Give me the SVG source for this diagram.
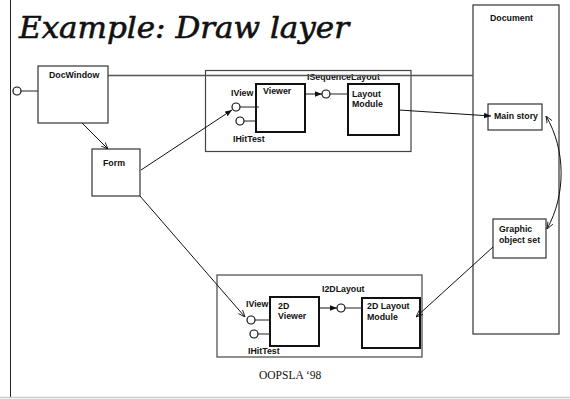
<svg xmlns="http://www.w3.org/2000/svg" width="570" height="399" viewBox="0 0 570 399">
<defs>
<style>
.lbl{font-family:"Liberation Sans",Arial,sans-serif;font-weight:bold;font-size:8.8px;fill:#111}
.box{fill:#fff;stroke:#333;stroke-width:1.2}
.thick{fill:#fff;stroke:#111;stroke-width:2}
.grp{fill:none;stroke:#444;stroke-width:1.2}
.ball{fill:#fff;stroke:#111;stroke-width:1.2}
.ln{stroke:#222;stroke-width:1;fill:none}
.arr{stroke:#111;stroke-width:1;fill:none}
</style>
<marker id="fa" viewBox="0 0 10 10" refX="10" refY="5" markerWidth="7" markerHeight="7" orient="auto-start-reverse" markerUnits="userSpaceOnUse">
<path d="M0,1 L10,5 L0,9 Z" fill="#111"/>
</marker>
<marker id="oa" viewBox="0 0 10 10" refX="10" refY="5" markerWidth="7" markerHeight="7" orient="auto-start-reverse" markerUnits="userSpaceOnUse">
<path d="M0,1 L10,5 L0,9" fill="none" stroke="#111" stroke-width="1.2"/>
</marker>
</defs>
<rect width="570" height="399" fill="#fff"/>
<line x1="10.5" y1="0" x2="10.5" y2="398" stroke="#222" stroke-width="1"/>
<line x1="0" y1="397.5" x2="570" y2="397.5" stroke="#ccc" stroke-width="1.5"/>
<text x="19" y="38" font-family="'DejaVu Serif','Liberation Serif',serif" font-style="italic" font-size="29" textLength="330" lengthAdjust="spacingAndGlyphs" fill="#111" stroke="#111" stroke-width="0.6">Example:  Draw layer</text>
<text x="259" y="379" font-family="'Liberation Serif','Times New Roman',serif" font-size="11.5" fill="#111">OOPSLA ‘98</text>

<g id="document">
<rect x="473" y="5" width="86" height="329" class="box"/>
<text x="490" y="21" class="lbl">Document</text>
</g>
<g id="seq-group">
<rect x="205.5" y="70.5" width="205.5" height="81" class="grp"/>
<text x="307" y="80" class="lbl">ISequenceLayout</text>
</g>
<g id="twod-group">
<rect x="217" y="275" width="205" height="82" class="grp"/>
<text x="322" y="292" class="lbl">I2DLayout</text>
</g>

<g id="docwindow">
<rect x="38" y="66" width="70" height="57" class="box"/>
<text x="49" y="78" class="lbl">DocWindow</text>
<circle cx="17" cy="91" r="4" class="ball"/>
</g>
<g id="form">
<rect x="92" y="149" width="48" height="47" class="box"/>
<text x="103" y="166" class="lbl">Form</text>
</g>
<g id="viewer">
<rect x="256" y="84" width="49" height="48" class="thick"/>
<text x="263" y="94" class="lbl">Viewer</text>
<circle cx="236" cy="107" r="4" class="ball"/>
<text x="231" y="96" class="lbl">IView</text>
<circle cx="240" cy="121" r="4" class="ball"/>
<text x="233" y="142" class="lbl">IHitTest</text>
</g>
<g id="seq-iface">
<circle cx="326" cy="94" r="4" class="ball"/>
</g>
<g id="layout-module">
<rect x="348" y="84" width="51" height="51" class="thick"/>
<text x="352" y="97" class="lbl">Layout</text>
<text x="352" y="107" class="lbl">Module</text>
</g>
<g id="main-story">
<rect x="488" y="104" width="54" height="26" class="box"/>
<text x="494" y="119" class="lbl">Main story</text>
</g>
<g id="graphic-object-set">
<rect x="493" y="219" width="53" height="39" class="box"/>
<text x="499" y="232" class="lbl">Graphic</text>
<text x="499" y="243" class="lbl">object set</text>
</g>
<g id="viewer2d">
<rect x="270" y="297" width="49" height="49" class="thick"/>
<text x="278" y="309" class="lbl">2D</text>
<text x="278" y="319" class="lbl">Viewer</text>
<circle cx="251" cy="320" r="4" class="ball"/>
<text x="246" y="307" class="lbl">IView</text>
<circle cx="254" cy="334" r="4" class="ball"/>
<text x="248" y="354" class="lbl">IHitTest</text>
</g>
<g id="twod-iface">
<circle cx="341" cy="308" r="4" class="ball"/>
</g>
<g id="layout-module-2d">
<rect x="362" y="298" width="58" height="50" class="thick"/>
<text x="367" y="309" class="lbl">2D Layout</text>
<text x="367" y="320" class="lbl">Module</text>
</g>

<g id="connectors">
<line x1="108" y1="75.5" x2="473" y2="75.5" stroke="#555" stroke-width="1.5"/>
<line x1="21" y1="91" x2="38" y2="91" class="ln"/>
<line x1="82" y1="123" x2="108" y2="149" class="arr" marker-end="url(#oa)"/>
<line x1="141" y1="170" x2="232" y2="110" class="arr" marker-end="url(#fa)"/>
<line x1="140" y1="196" x2="245" y2="317" class="arr" marker-end="url(#oa)"/>
<line x1="240" y1="107" x2="259" y2="107" class="ln"/>
<line x1="244" y1="121" x2="256" y2="121" class="ln"/>
<line x1="305" y1="94" x2="322" y2="94" class="arr" marker-end="url(#fa)"/>
<line x1="330" y1="94" x2="348" y2="94" class="ln"/>
<line x1="399" y1="110" x2="491" y2="116" class="arr" marker-end="url(#fa)"/>
<path d="M546,116 C566,150 566,195 547,229" class="arr" marker-start="url(#oa)" marker-end="url(#oa)"/>
<line x1="493" y1="247" x2="416" y2="317" class="arr" marker-end="url(#oa)"/>
<line x1="255" y1="320" x2="271" y2="320" class="ln"/>
<line x1="258" y1="334" x2="270" y2="334" class="ln"/>
<line x1="319" y1="308" x2="337" y2="308" class="arr" marker-end="url(#fa)"/>
<line x1="345" y1="308" x2="362" y2="308" class="ln"/>
</g>
</svg>
